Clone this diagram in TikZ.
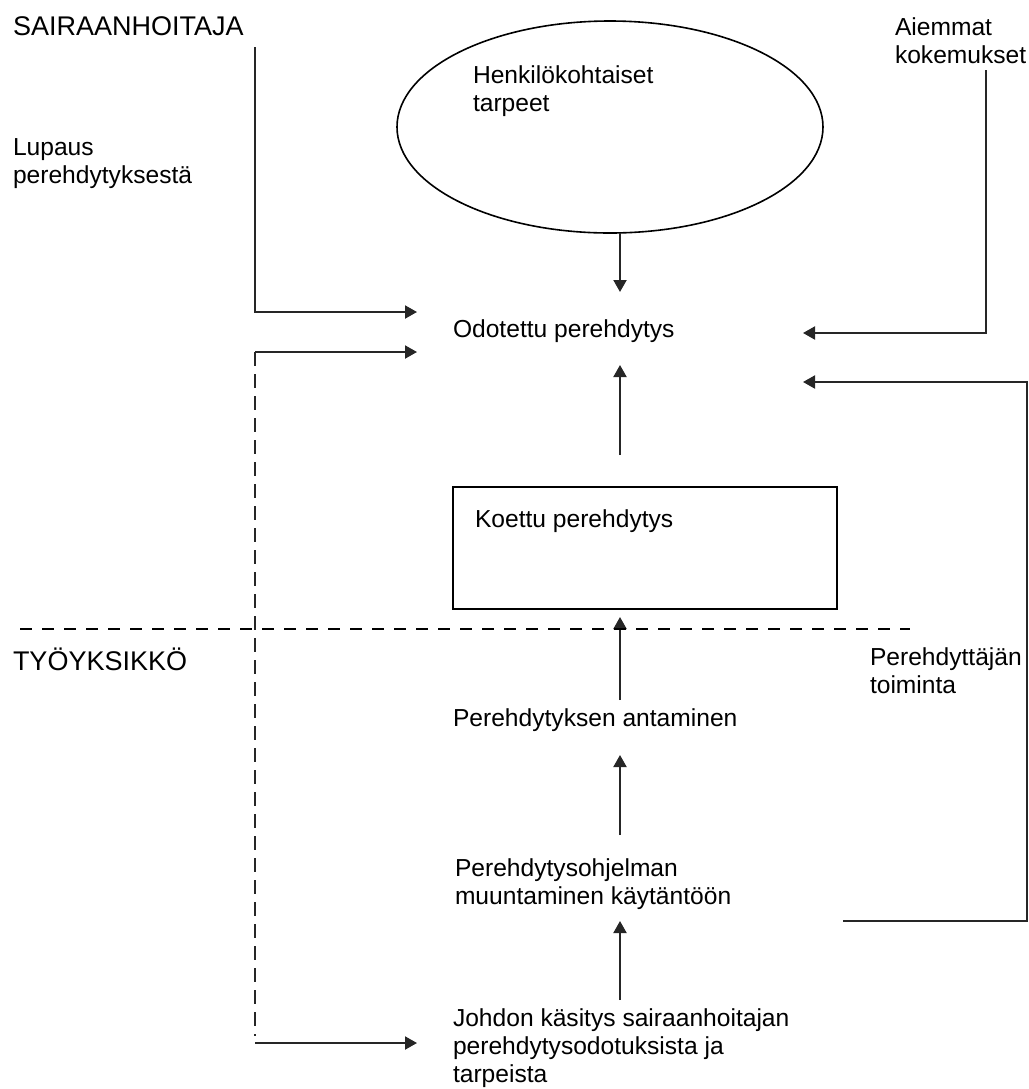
\documentclass[tikz,border=0pt]{standalone}
\usepackage{fontspec}
\setmainfont{Liberation Sans}
\usetikzlibrary{arrows.meta,shapes.geometric}
\begin{document}
\begin{tikzpicture}[x=0.5pt,y=-0.5pt,
  lbl/.style={anchor=base west, inner sep=0pt, outer sep=0pt, align=left, font=\fontsize{12.3}{13.8}\selectfont},
  big/.style={lbl, font=\fontsize{13.5}{15}\selectfont},
  ln/.style={line width=1pt, black!85},
  conn/.style={ln, -{Triangle[length=6pt,width=6.5pt]}},
  dashv/.style={ln, dash pattern=on 7pt off 4pt},
  dashh/.style={line width=1.3pt, dash pattern=on 6pt off 5pt}]
\useasboundingbox (0,0) rectangle (1029,1089);

% labels (multi-line nodes are anchored at the baseline of their last line)
\node[big] (sair) at (13,35) {SAIRAANHOITAJA};
\node[lbl] (lupaus) at (13,183.5) {Lupaus\\perehdytyksestä};
\node[lbl] (aiemmat) at (895,63) {Aiemmat\\kokemukset};
\node[draw, ellipse, line width=0.8pt, inner sep=0pt, outer sep=0pt, minimum width=213pt, minimum height=106pt] (needs) at (610,127) {};
\node[lbl] (needstxt) at (473,111) {Henkilökohtaiset\\tarpeet};
\node[lbl] (odot) at (453,337) {Odotettu perehdytys};
\node[draw, rectangle, line width=1pt, inner sep=0pt, outer sep=0pt, minimum width=192pt, minimum height=61pt] (koettu) at (645,548) {};
\node[lbl] (koettutxt) at (475,527) {Koettu perehdytys};
\node[big] (tyo) at (13,670) {TYÖYKSIKKÖ};
\node[lbl] (pereh) at (870,693) {Perehdyttäjän\\toiminta};
\node[lbl] (antam) at (453,726) {Perehdytyksen antaminen};
\node[lbl] (ohj) at (455,904) {Perehdytysohjelman\\muuntaminen käytäntöön};
\node[lbl] (johdon) at (453,1082) {Johdon käsitys sairaanhoitajan\\perehdytysodotuksista ja\\tarpeista};

% coordinates
\coordinate (l1s) at (255,47);
\coordinate (l1e) at (417,312);
\coordinate (l2s) at (255,352);
\coordinate (l2e) at (417,352);
\coordinate (l2b) at (255,1036);
\coordinate (l3s) at (255,1043);
\coordinate (l3e) at (417,1043);
\coordinate (r1s) at (986,70);
\coordinate (r1e) at (803,333);
\coordinate (r2s) at (843,921);
\coordinate (r2c) at (1027,382);
\coordinate (r2e) at (803,382);
\coordinate (a1s) at (620,233);
\coordinate (a1e) at (620,292);
\coordinate (a2s) at (620,455);
\coordinate (a2e) at (620,365);
\coordinate (a3s) at (620,700);
\coordinate (a3e) at (620,617);
\coordinate (a4s) at (620,835);
\coordinate (a4e) at (620,755);
\coordinate (a5s) at (620,1000);
\coordinate (a5e) at (620,921);
\coordinate (hl) at (20,629);
\coordinate (hr) at (910,629);

% connectors
\draw[conn] (l1s) |- (l1e);
\draw[conn] (l2s) -- (l2e);
\draw[dashv] (l2s) -- (l2b);
\draw[conn] (l3s) -- (l3e);
\draw[conn] (r1s) |- (r1e);
\draw[conn] (r2s) -| (r2c) -- (r2e);
\draw[conn] (a1s) -- (a1e);
\draw[conn] (a2s) -- (a2e);
\draw[conn] (a3s) -- (a3e);
\draw[conn] (a4s) -- (a4e);
\draw[conn] (a5s) -- (a5e);
\draw[dashh] (hl) -- (hr);
\end{tikzpicture}
\end{document}
